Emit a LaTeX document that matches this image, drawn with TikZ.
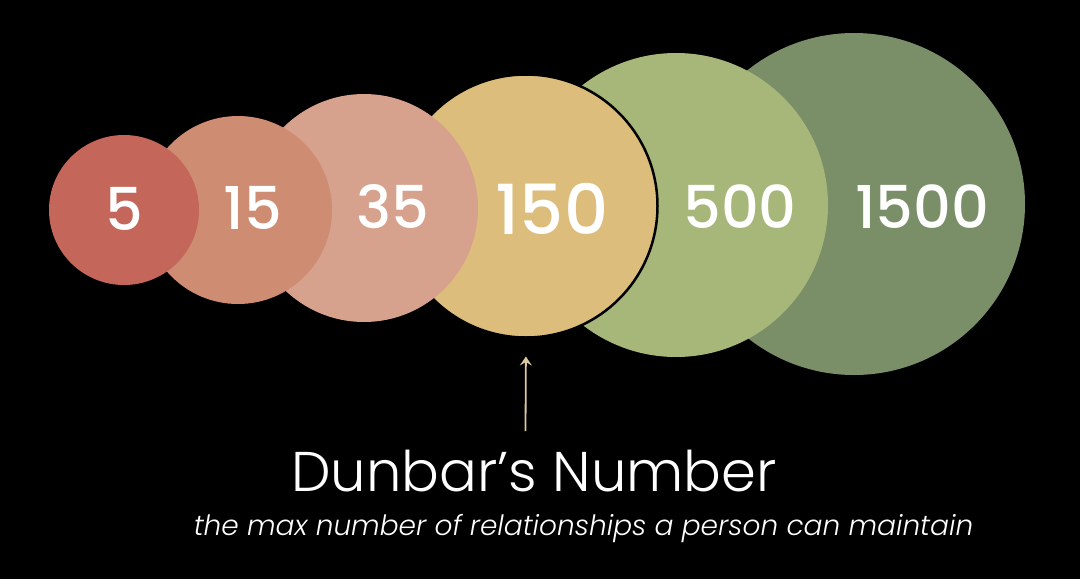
\documentclass[tikz,border=0pt]{standalone}
\usepackage{fontspec}
\usetikzlibrary{arrows.meta}
% Fonts: a geometric sans, with lighter cuts when they are installed
\newfontfamily\numfont{Poppins}
\IfFontExistsTF{Poppins Medium}{\newfontfamily\numfontm{Poppins Medium}}{\newfontfamily\numfontm{Poppins}}
\IfFontExistsTF{Poppins Light}{\newfontfamily\lightfont{Poppins Light}}{\newfontfamily\lightfont{Poppins}}
\IfFontExistsTF{Poppins Light Italic}{\newfontfamily\lightit{Poppins Light Italic}}{\newfontfamily\lightit{Poppins}[FakeSlant=0.2]}

\definecolor{bg}{HTML}{000000}
\definecolor{cfive}{HTML}{C4675A}
\definecolor{cfifteen}{HTML}{CE8C72}
\definecolor{cthirtyfive}{HTML}{D7A28D}
\definecolor{conefifty}{HTML}{DDBD7C}
\definecolor{cfivehundred}{HTML}{A7B77A}
\definecolor{cfifteenhundred}{HTML}{7A8F68}
\definecolor{arrowtan}{HTML}{D9C79F}

\begin{document}
\begin{tikzpicture}[x=1pt,y=-1pt,
  disc/.style={circle, inner sep=0pt, outer sep=0pt, draw=none, minimum size=#1},
  num/.style={text=white, inner sep=0pt, font=\numfontm\fontsize{59}{59}\selectfont},
  bignum/.style={text=white, inner sep=0pt, font=\numfontm\fontsize{69}{69}\selectfont},
  headline/.style={text=white, inner sep=0pt, font=\lightfont\fontsize{56}{56}\selectfont},
  tagline/.style={text=white, inner sep=0pt, font=\lightit\fontsize{28}{28}\selectfont},
  pointer/.style={draw=arrowtan, line width=1.8pt, -{Stealth[length=9pt,width=12pt,inset=3.5pt]}}]

% background and page size
\fill[bg] (0,0) rectangle (1080,579);
\useasboundingbox (0,0) rectangle (1080,579);

% circles, largest at the back
\node[disc=342pt, fill=cfifteenhundred] (c1500) at (854,204) {};
\node[disc=304pt, fill=cfivehundred]    (c500)  at (676,205) {};
\node[disc=263pt, fill=conefifty, draw=black, line width=2.5pt] (c150) at (526,206) {};
\node[disc=228pt, fill=cthirtyfive]     (c35)   at (364,208) {};
\node[disc=188pt, fill=cfifteen]        (c15)   at (238,210) {};
\node[disc=150pt, fill=cfive]           (c5)    at (124,210) {};

% group sizes
\node[num]    (n5)    at (124,209) {5};
\node[num]    (n15)   at (253,208) {15};
\node[num]    (n35)   at (393,207) {35};
\node[bignum] (n150)  at (552,209) {150};
\node[num]    (n500)  at (740,207) {500};
\node[num]    (n1500) at (922,207) {1500};

% caption
\node[headline, anchor=base] (title) at (534,491) {Dunbar’s Number};
\node[tagline, anchor=base]  (sub)   at (583.5,535) {the max number of relationships a person can maintain};

% pointer to the 150 circle
\coordinate (foot) at (525.5,431);
\draw[pointer, shorten >=19pt] (foot) -- (c150.south);
\end{tikzpicture}
\end{document}
